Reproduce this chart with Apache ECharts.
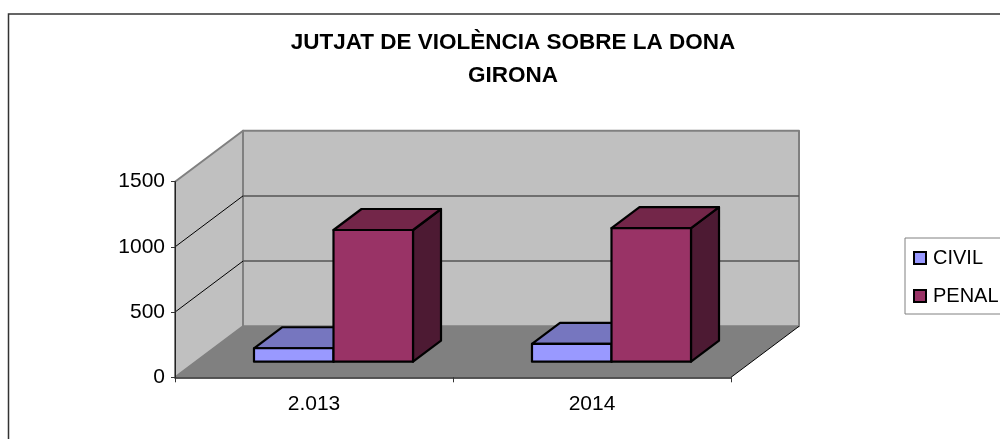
<!DOCTYPE html>
<html><head><meta charset="utf-8">
<style>html,body{margin:0;padding:0;background:#fff}#c{width:1000px;height:439px}</style>
<script src="https://cdn.jsdelivr.net/npm/echarts@6/dist/echarts.min.js"></script>
</head><body><div id="c"></div>
<script>
const categories = ['2.013', '2014'];
const civil = [103, 136];
const penal = [1010, 1025];
const yTicks = [0, 500, 1000, 1500];
const FONT = '"Liberation Sans", Arial, sans-serif';
const WALL_DX = 68, WALL_DY = 51;
const BAR_OFF_DX = 19.5, BAR_OFF_DY = 15.6;
const BAR_DX = 28, BAR_DY = 21;
const BAR_FRAC = 0.286;

const chart = echarts.init(document.getElementById('c'), null, {renderer: 'canvas'});

function poly(points, fill, stroke, lw) {
  return {type: 'polygon', shape: {points}, style: {fill, stroke: stroke || 'none', lineWidth: lw || 0, lineJoin: 'round'}};
}
function line(x1, y1, x2, y2, stroke, lw) {
  return {type: 'line', shape: {x1, y1, x2, y2}, style: {stroke, lineWidth: lw}};
}
function wallsItem(params, api) {
  if (params.dataIndex !== 0) return null;
  const c = params.coordSys;
  const l = c.x, r = c.x + c.width, t = c.y, b = c.y + c.height;
  const dx = WALL_DX, dy = WALL_DY;
  const kids = [];
  kids.push(poly([[l + dx, t - dy], [r + dx, t - dy], [r + dx, b - dy], [l + dx, b - dy]], '#c0c0c0', '#808080', 2));
  kids.push(poly([[l, t], [l + dx, t - dy], [l + dx, b - dy], [l, b]], '#c0c0c0', '#808080', 2));
  kids.push(poly([[l, b], [l + dx, b - dy], [r + dx, b - dy], [r, b]], '#808080'));
  yTicks.forEach(v => {
    if (v === 0 || v === yTicks[yTicks.length - 1]) return;
    const y = api.coord([0, v])[1];
    kids.push(line(l, y, l + dx, y - dy, '#000', 1));
    kids.push(line(l + dx, y - dy, r + dx, y - dy, '#555', 1.5));
  });
  kids.push(line(r, b, r + dx, b - dy, '#000', 1));
  return {type: 'group', children: kids};
}
function barItem(slot, front, top, side) {
  return function (params, api) {
    const p = api.coord([api.value(0), api.value(1)]);
    const base = api.coord([api.value(0), 0]);
    const band = api.size([1, 0])[0];
    const w = band * BAR_FRAC;
    const x0 = p[0] + BAR_OFF_DX + (slot - 1) * w, x1 = x0 + w;
    const yt = p[1] - BAR_OFF_DY, yb = base[1] - BAR_OFF_DY;
    const S = '#000', LW = 2.2;
    return {type: 'group', children: [
      poly([[x1, yt], [x1 + BAR_DX, yt - BAR_DY], [x1 + BAR_DX, yb - BAR_DY], [x1, yb]], side, S, LW),
      poly([[x0, yt], [x0 + BAR_DX, yt - BAR_DY], [x1 + BAR_DX, yt - BAR_DY], [x1, yt]], top, S, LW),
      poly([[x0, yt], [x1, yt], [x1, yb], [x0, yb]], front, S, LW)
    ]};
  };
}
chart.setOption({
  animation: false,
  backgroundColor: '#fff',
  title: {
    text: 'JUTJAT DE VIOLÈNCIA SOBRE LA DONA\nGIRONA',
    left: 508, top: 21, textAlign: 'center',
    textStyle: {fontFamily: FONT, fontSize: 22.5, fontWeight: 'bold', color: '#000', lineHeight: 33}
  },
  legend: {
    show: true, orient: 'vertical', left: 905, top: 238,
    data: ['CIVIL', 'PENAL'],
    icon: 'rect',
    padding: [10, 10, 8, 8],
    itemWidth: 12, itemHeight: 12, itemGap: 18,
    borderColor: '#808080', borderWidth: 1,
    textStyle: {fontFamily: FONT, fontSize: 20, color: '#000', padding: [0, 0, 0, 2]},
    selectedMode: false
  },
  grid: {left: 175, right: 269, top: 181.7, bottom: 61.7, containLabel: false},
  xAxis: {
    type: 'category', data: categories, z: 5,
    axisLine: {lineStyle: {color: '#222', width: 1.5}},
    axisTick: {show: true, length: 5, lineStyle: {color: '#333'}},
    axisLabel: {fontFamily: FONT, fontSize: 21, color: '#000', margin: 16},
    splitLine: {show: false}
  },
  yAxis: {
    type: 'value', min: 0, max: 1500, interval: 500, z: 5,
    axisLine: {show: true, lineStyle: {color: '#222', width: 1}},
    axisTick: {show: true, length: 4, lineStyle: {color: '#333'}},
    axisLabel: {fontFamily: FONT, fontSize: 21, color: '#000', margin: 10, formatter: v => String(v)},
    splitLine: {show: false}
  },
  graphic: [{type: 'rect', z: -1, silent: true, shape: {x: 8.5, y: 14, width: 1100, height: 600},
    style: {fill: 'none', stroke: '#333', lineWidth: 1.5}}],
  series: [
    {type: 'custom', name: 'walls', z: 1, silent: true, data: categories.map((c, i) => [i, 0]), renderItem: wallsItem, encode: {x: 0, y: 1}, tooltip: {show: false}},
    {type: 'custom', name: 'CIVIL', z: 2, data: categories.map((c, i) => [i, civil[i]]), renderItem: barItem(0, '#9999ff', '#7676bf', '#4c4c80'), encode: {x: 0, y: 1},
      itemStyle: {color: '#9999ff', borderColor: '#000', borderWidth: 2}},
    {type: 'custom', name: 'PENAL', z: 3, data: categories.map((c, i) => [i, penal[i]]), renderItem: barItem(1, '#993366', '#732649', '#4d1a33'), encode: {x: 0, y: 1},
      itemStyle: {color: '#993366', borderColor: '#000', borderWidth: 2}}
  ]
});
</script></body></html>
